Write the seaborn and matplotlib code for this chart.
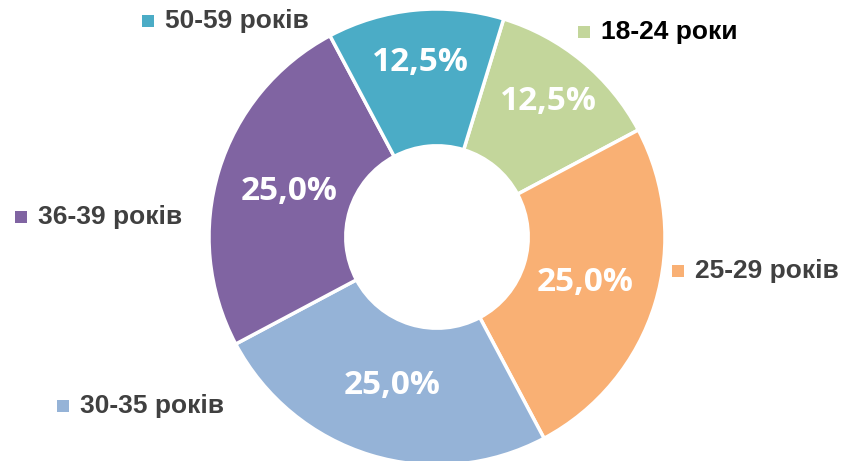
import numpy as np
import matplotlib
matplotlib.use("Agg")
import matplotlib.pyplot as plt
import seaborn as sns

categories = ["18-24 роки", "25-29 років", "30-35 років", "36-39 років", "50-59 років"]
values = [12.5, 25.0, 25.0, 25.0, 12.5]
colors = ["#C3D69B", "#F9B074", "#95B3D7", "#8064A2", "#4BACC6"]
label_colors = ["#000000", "#404040", "#404040", "#404040", "#404040"]

sns.set_theme(style="white")
plt.rcParams['font.family'] = ['Liberation Sans', 'DejaVu Sans']

W, H = 844, 461
fig = plt.figure(figsize=(W / 100, H / 100), dpi=100)
ax = fig.add_axes([0, 0, 1, 1])

cx, cy, R = 437, H - 237, 228
wedges, _ = ax.pie(values, colors=colors, startangle=73, counterclock=False,
                   center=(cx, cy), radius=R, frame=True,
                   wedgeprops=dict(width=R * 0.6, edgecolor="white", linewidth=2.5))
ax.set_xlim(0, W)
ax.set_ylim(0, H)
ax.set_aspect("equal")
ax.axis("off")

# percentage labels
for w, v in zip(wedges, values):
    ang = np.deg2rad((w.theta1 + w.theta2) / 2)
    r = 175 if v < 20 else 155
    x = cx + r * np.cos(ang)
    y = cy + r * np.sin(ang)
    ax.text(x, y, f"{v:.1f}%".replace(".", ","), ha="center", va="center",
            color="white", fontsize=24, fontweight="bold", family=["Open Sans", "DejaVu Sans"])

# category labels (legend-key style), positions in pixels from top-left
label_pos = [(578, 32), (672, 271), (57, 406), (15, 217), (142, 21)]
for (px, py), cat, col, tc in zip(label_pos, categories, colors, label_colors):
    y = H - py
    ax.scatter([px + 5.5], [y], marker="s", s=85, color=col, linewidths=0)
    ax.text(px + 23, y, cat, ha="left", va="center", fontsize=19,
            fontweight="bold", color=tc)

fig.savefig("out.png", dpi=100)
